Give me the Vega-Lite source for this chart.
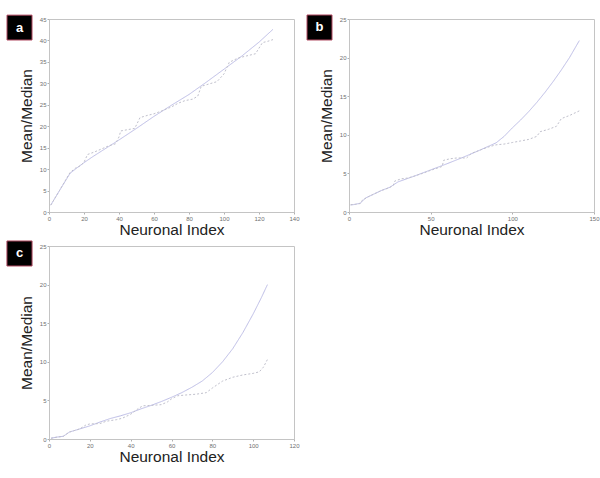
{
  "$schema": "https://vega.github.io/schema/vega-lite/v6.json",
  "background": "white",
  "padding": {"left": 5, "top": 13, "right": 0, "bottom": 0},
  "columns": 2,
  "spacing": {"row": 34, "column": 55},
  "bounds": "flush",
  "datasets": {
    "a": [
      {"curve": "solid", "index": 1, "value": 1.6}, {"curve": "solid", "index": 6, "value": 5.0}, {"curve": "solid", "index": 12, "value": 9.0}, {"curve": "solid", "index": 16, "value": 10.3}, {"curve": "solid", "index": 20, "value": 11.5}, {"curve": "solid", "index": 25, "value": 12.9}, {"curve": "solid", "index": 30, "value": 14.2}, {"curve": "solid", "index": 35, "value": 15.5}, {"curve": "solid", "index": 40, "value": 16.8}, {"curve": "solid", "index": 50, "value": 19.5}, {"curve": "solid", "index": 60, "value": 22.3}, {"curve": "solid", "index": 70, "value": 24.9}, {"curve": "solid", "index": 80, "value": 27.4}, {"curve": "solid", "index": 90, "value": 30.3}, {"curve": "solid", "index": 100, "value": 33.3}, {"curve": "solid", "index": 110, "value": 36.3}, {"curve": "solid", "index": 120, "value": 39.6}, {"curve": "solid", "index": 128, "value": 42.6},
      {"curve": "dashed", "index": 1, "value": 1.6}, {"curve": "dashed", "index": 6, "value": 5.0}, {"curve": "dashed", "index": 12, "value": 9.2}, {"curve": "dashed", "index": 15, "value": 10.2}, {"curve": "dashed", "index": 18, "value": 10.8}, {"curve": "dashed", "index": 20, "value": 11.6}, {"curve": "dashed", "index": 22, "value": 13.4}, {"curve": "dashed", "index": 26, "value": 14.0}, {"curve": "dashed", "index": 30, "value": 14.7}, {"curve": "dashed", "index": 34, "value": 15.4}, {"curve": "dashed", "index": 38, "value": 15.9}, {"curve": "dashed", "index": 40, "value": 17.5}, {"curve": "dashed", "index": 41, "value": 18.9}, {"curve": "dashed", "index": 45, "value": 19.2}, {"curve": "dashed", "index": 49, "value": 19.5}, {"curve": "dashed", "index": 52, "value": 22.0}, {"curve": "dashed", "index": 56, "value": 22.5}, {"curve": "dashed", "index": 60, "value": 22.9}, {"curve": "dashed", "index": 64, "value": 23.5}, {"curve": "dashed", "index": 67, "value": 24.0}, {"curve": "dashed", "index": 70, "value": 24.5}, {"curve": "dashed", "index": 74, "value": 25.4}, {"curve": "dashed", "index": 78, "value": 26.0}, {"curve": "dashed", "index": 82, "value": 26.3}, {"curve": "dashed", "index": 85, "value": 27.0}, {"curve": "dashed", "index": 87, "value": 29.3}, {"curve": "dashed", "index": 91, "value": 29.8}, {"curve": "dashed", "index": 96, "value": 30.4}, {"curve": "dashed", "index": 100, "value": 32.2}, {"curve": "dashed", "index": 103, "value": 34.9}, {"curve": "dashed", "index": 108, "value": 35.9}, {"curve": "dashed", "index": 113, "value": 36.4}, {"curve": "dashed", "index": 118, "value": 36.9}, {"curve": "dashed", "index": 122, "value": 39.5}, {"curve": "dashed", "index": 125, "value": 39.8}, {"curve": "dashed", "index": 128, "value": 40.2}
    ],
    "b": [
      {"curve": "solid", "index": 1, "value": 0.9}, {"curve": "solid", "index": 4, "value": 1.0}, {"curve": "solid", "index": 7, "value": 1.15}, {"curve": "solid", "index": 10, "value": 1.8}, {"curve": "solid", "index": 15, "value": 2.3}, {"curve": "solid", "index": 20, "value": 2.8}, {"curve": "solid", "index": 25, "value": 3.2}, {"curve": "solid", "index": 30, "value": 3.9}, {"curve": "solid", "index": 40, "value": 4.65}, {"curve": "solid", "index": 50, "value": 5.45}, {"curve": "solid", "index": 60, "value": 6.25}, {"curve": "solid", "index": 70, "value": 7.1}, {"curve": "solid", "index": 80, "value": 8.0}, {"curve": "solid", "index": 90, "value": 8.95}, {"curve": "solid", "index": 95, "value": 9.8}, {"curve": "solid", "index": 100, "value": 10.9}, {"curve": "solid", "index": 105, "value": 11.9}, {"curve": "solid", "index": 110, "value": 13.0}, {"curve": "solid", "index": 115, "value": 14.2}, {"curve": "solid", "index": 120, "value": 15.5}, {"curve": "solid", "index": 125, "value": 16.9}, {"curve": "solid", "index": 130, "value": 18.4}, {"curve": "solid", "index": 135, "value": 20.0}, {"curve": "solid", "index": 141, "value": 22.2},
      {"curve": "dashed", "index": 1, "value": 0.95}, {"curve": "dashed", "index": 4, "value": 1.0}, {"curve": "dashed", "index": 7, "value": 1.1}, {"curve": "dashed", "index": 8, "value": 1.5}, {"curve": "dashed", "index": 12, "value": 2.0}, {"curve": "dashed", "index": 17, "value": 2.5}, {"curve": "dashed", "index": 20, "value": 2.8}, {"curve": "dashed", "index": 24, "value": 3.1}, {"curve": "dashed", "index": 27, "value": 3.4}, {"curve": "dashed", "index": 28, "value": 4.0}, {"curve": "dashed", "index": 32, "value": 4.3}, {"curve": "dashed", "index": 36, "value": 4.4}, {"curve": "dashed", "index": 40, "value": 4.65}, {"curve": "dashed", "index": 45, "value": 5.0}, {"curve": "dashed", "index": 50, "value": 5.4}, {"curve": "dashed", "index": 55, "value": 5.75}, {"curve": "dashed", "index": 57, "value": 5.9}, {"curve": "dashed", "index": 58, "value": 6.7}, {"curve": "dashed", "index": 62, "value": 6.9}, {"curve": "dashed", "index": 66, "value": 7.0}, {"curve": "dashed", "index": 72, "value": 7.0}, {"curve": "dashed", "index": 75, "value": 7.6}, {"curve": "dashed", "index": 80, "value": 8.0}, {"curve": "dashed", "index": 85, "value": 8.4}, {"curve": "dashed", "index": 90, "value": 8.7}, {"curve": "dashed", "index": 95, "value": 8.8}, {"curve": "dashed", "index": 100, "value": 9.0}, {"curve": "dashed", "index": 105, "value": 9.2}, {"curve": "dashed", "index": 110, "value": 9.4}, {"curve": "dashed", "index": 115, "value": 9.8}, {"curve": "dashed", "index": 117, "value": 10.4}, {"curve": "dashed", "index": 122, "value": 10.7}, {"curve": "dashed", "index": 127, "value": 11.1}, {"curve": "dashed", "index": 130, "value": 12.1}, {"curve": "dashed", "index": 135, "value": 12.5}, {"curve": "dashed", "index": 141, "value": 13.1}
    ],
    "c": [
      {"curve": "solid", "index": 1, "value": 0.1}, {"curve": "solid", "index": 4, "value": 0.25}, {"curve": "solid", "index": 7, "value": 0.35}, {"curve": "solid", "index": 10, "value": 0.9}, {"curve": "solid", "index": 15, "value": 1.3}, {"curve": "solid", "index": 20, "value": 1.7}, {"curve": "solid", "index": 25, "value": 2.2}, {"curve": "solid", "index": 30, "value": 2.65}, {"curve": "solid", "index": 35, "value": 3.0}, {"curve": "solid", "index": 40, "value": 3.4}, {"curve": "solid", "index": 45, "value": 3.9}, {"curve": "solid", "index": 50, "value": 4.35}, {"curve": "solid", "index": 55, "value": 4.85}, {"curve": "solid", "index": 60, "value": 5.4}, {"curve": "solid", "index": 65, "value": 6.0}, {"curve": "solid", "index": 70, "value": 6.7}, {"curve": "solid", "index": 75, "value": 7.5}, {"curve": "solid", "index": 80, "value": 8.6}, {"curve": "solid", "index": 85, "value": 10.0}, {"curve": "solid", "index": 90, "value": 11.7}, {"curve": "solid", "index": 95, "value": 13.8}, {"curve": "solid", "index": 100, "value": 16.2}, {"curve": "solid", "index": 104, "value": 18.3}, {"curve": "solid", "index": 107, "value": 20.0},
      {"curve": "dashed", "index": 1, "value": 0.1}, {"curve": "dashed", "index": 4, "value": 0.25}, {"curve": "dashed", "index": 7, "value": 0.35}, {"curve": "dashed", "index": 10, "value": 0.9}, {"curve": "dashed", "index": 15, "value": 1.3}, {"curve": "dashed", "index": 18, "value": 1.8}, {"curve": "dashed", "index": 20, "value": 1.95}, {"curve": "dashed", "index": 25, "value": 2.0}, {"curve": "dashed", "index": 28, "value": 2.3}, {"curve": "dashed", "index": 33, "value": 2.5}, {"curve": "dashed", "index": 36, "value": 2.7}, {"curve": "dashed", "index": 40, "value": 3.2}, {"curve": "dashed", "index": 44, "value": 4.0}, {"curve": "dashed", "index": 46, "value": 4.3}, {"curve": "dashed", "index": 50, "value": 4.35}, {"curve": "dashed", "index": 55, "value": 4.45}, {"curve": "dashed", "index": 58, "value": 4.8}, {"curve": "dashed", "index": 60, "value": 5.2}, {"curve": "dashed", "index": 63, "value": 5.6}, {"curve": "dashed", "index": 67, "value": 5.7}, {"curve": "dashed", "index": 72, "value": 5.8}, {"curve": "dashed", "index": 77, "value": 6.0}, {"curve": "dashed", "index": 80, "value": 6.6}, {"curve": "dashed", "index": 85, "value": 7.5}, {"curve": "dashed", "index": 90, "value": 8.0}, {"curve": "dashed", "index": 95, "value": 8.3}, {"curve": "dashed", "index": 100, "value": 8.5}, {"curve": "dashed", "index": 103, "value": 8.7}, {"curve": "dashed", "index": 105, "value": 9.3}, {"curve": "dashed", "index": 107, "value": 10.3}
    ]
  },
  "concat": [
    {
      "width": 245, "height": 193,
      "layer": [
        {
          "data": {"name": "a"},
          "mark": {"type": "line", "strokeWidth": 1, "clip": true},
          "encoding": {
            "x": {"field": "index", "type": "quantitative", "scale": {"domain": [0, 140], "nice": false}, "axis": {"values": [0, 20, 40, 60, 80, 100, 120, 140], "tickCount": 30, "title": "Neuronal Index", "labelOverlap": false, "labelFlush": false, "labelBound": false}},
            "y": {"field": "value", "type": "quantitative", "scale": {"domain": [0, 45], "nice": false}, "axis": {"values": [0, 5, 10, 15, 20, 25, 30, 35, 40, 45], "tickCount": 30, "title": "Mean/Median", "labelOverlap": false, "labelFlush": false, "labelBound": false}},
            "color": {"field": "curve", "type": "nominal", "scale": {"domain": ["solid", "dashed"], "range": ["#bcbce6", "#c0c0cc"]}, "legend": null},
            "strokeDash": {"field": "curve", "type": "nominal", "scale": {"domain": ["solid", "dashed"], "range": [[1, 0], [2, 2]]}, "legend": null}
          }
        },
        {
          "data": {"values": [{"label": "a"}]},
          "mark": {"type": "rect", "fill": "#000000", "stroke": "#b04860", "strokeWidth": 1},
          "encoding": {"x": {"datum": -24, "type": "quantitative"}, "x2": {"datum": -9.7}, "y": {"datum": 40.1, "type": "quantitative"}, "y2": {"datum": 45.9}}
        },
        {
          "data": {"values": [{"label": "a"}]},
          "mark": {"type": "text", "color": "white", "fontWeight": "bold", "fontSize": 13, "font": "Liberation Sans", "baseline": "middle", "align": "center"},
          "encoding": {"x": {"datum": -16.85, "type": "quantitative"}, "y": {"datum": 43, "type": "quantitative"}, "text": {"field": "label"}}
        }
      ]
    },
    {
      "width": 245, "height": 193,
      "layer": [
        {
          "data": {"name": "b"},
          "mark": {"type": "line", "strokeWidth": 1, "clip": true},
          "encoding": {
            "x": {"field": "index", "type": "quantitative", "scale": {"domain": [0, 150], "nice": false}, "axis": {"values": [0, 50, 100, 150], "tickCount": 30, "title": "Neuronal Index", "labelOverlap": false, "labelFlush": false, "labelBound": false}},
            "y": {"field": "value", "type": "quantitative", "scale": {"domain": [0, 25], "nice": false}, "axis": {"values": [0, 5, 10, 15, 20, 25], "tickCount": 30, "title": "Mean/Median", "labelOverlap": false, "labelFlush": false, "labelBound": false}},
            "color": {"field": "curve", "type": "nominal", "scale": {"domain": ["solid", "dashed"], "range": ["#bcbce6", "#c0c0cc"]}, "legend": null},
            "strokeDash": {"field": "curve", "type": "nominal", "scale": {"domain": ["solid", "dashed"], "range": [[1, 0], [2, 2]]}, "legend": null}
          }
        },
        {
          "data": {"values": [{"label": "b"}]},
          "mark": {"type": "rect", "fill": "#000000", "stroke": "#b04860", "strokeWidth": 1},
          "encoding": {"x": {"datum": -25.7, "type": "quantitative"}, "x2": {"datum": -10.4}, "y": {"datum": 22.28, "type": "quantitative"}, "y2": {"datum": 25.52}}
        },
        {
          "data": {"values": [{"label": "b"}]},
          "mark": {"type": "text", "color": "white", "fontWeight": "bold", "fontSize": 13, "font": "Liberation Sans", "baseline": "middle", "align": "center"},
          "encoding": {"x": {"datum": -18.05, "type": "quantitative"}, "y": {"datum": 23.9, "type": "quantitative"}, "text": {"field": "label"}}
        }
      ]
    },
    {
      "width": 245, "height": 193,
      "layer": [
        {
          "data": {"name": "c"},
          "mark": {"type": "line", "strokeWidth": 1, "clip": true},
          "encoding": {
            "x": {"field": "index", "type": "quantitative", "scale": {"domain": [0, 120], "nice": false}, "axis": {"values": [0, 20, 40, 60, 80, 100, 120], "tickCount": 30, "title": "Neuronal Index", "labelOverlap": false, "labelFlush": false, "labelBound": false}},
            "y": {"field": "value", "type": "quantitative", "scale": {"domain": [0, 25], "nice": false}, "axis": {"values": [0, 5, 10, 15, 20, 25], "tickCount": 30, "title": "Mean/Median", "labelOverlap": false, "labelFlush": false, "labelBound": false}},
            "color": {"field": "curve", "type": "nominal", "scale": {"domain": ["solid", "dashed"], "range": ["#bcbce6", "#c0c0cc"]}, "legend": null},
            "strokeDash": {"field": "curve", "type": "nominal", "scale": {"domain": ["solid", "dashed"], "range": [[1, 0], [2, 2]]}, "legend": null}
          }
        },
        {
          "data": {"values": [{"label": "c"}]},
          "mark": {"type": "rect", "fill": "#000000", "stroke": "#b04860", "strokeWidth": 1},
          "encoding": {"x": {"datum": -20.6, "type": "quantitative"}, "x2": {"datum": -8.3}, "y": {"datum": 22.41, "type": "quantitative"}, "y2": {"datum": 25.65}}
        },
        {
          "data": {"values": [{"label": "c"}]},
          "mark": {"type": "text", "color": "white", "fontWeight": "bold", "fontSize": 13, "font": "Liberation Sans", "baseline": "middle", "align": "center"},
          "encoding": {"x": {"datum": -14.45, "type": "quantitative"}, "y": {"datum": 24.03, "type": "quantitative"}, "text": {"field": "label"}}
        }
      ]
    }
  ],
  "config": {
    "view": {"stroke": "#c4c4c4", "strokeWidth": 1},
    "axis": {
      "grid": false,
      "domainColor": "#c4c4c4",
      "tickColor": "#b0b0b0",
      "tickSize": 2,
      "labelFont": "Liberation Sans",
      "labelFontSize": 6,
      "labelColor": "#707070",
      "labelPadding": 1,
      "titleFont": "Liberation Sans",
      "titleFontSize": 15.5,
      "titleFontWeight": "normal",
      "titleColor": "#222222"
    },
    "axisX": {"titlePadding": 1},
    "axisY": {"titlePadding": 5}
  }
}
